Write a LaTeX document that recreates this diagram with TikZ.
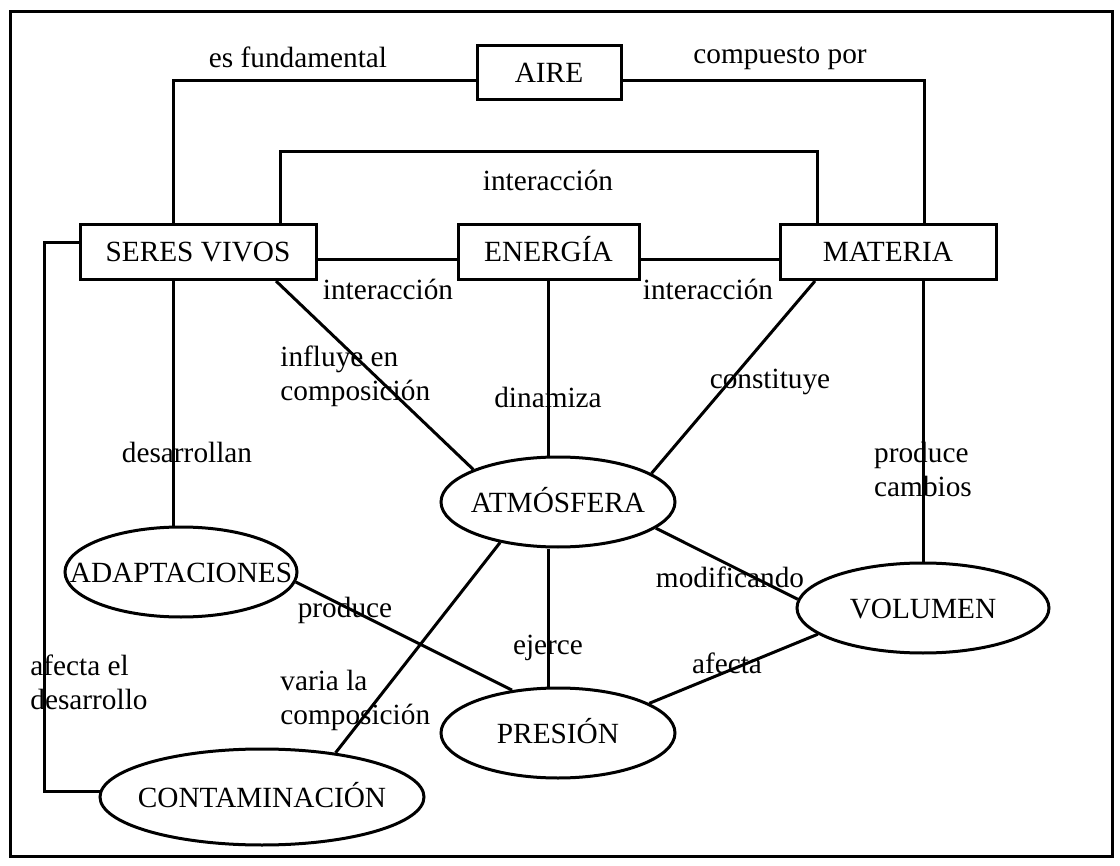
\documentclass[tikz,border=0pt]{standalone}
\usepackage{fontspec}
\setmainfont{Liberation Serif}
\usetikzlibrary{shapes.geometric,calc}
\begin{document}
\begin{tikzpicture}[x=0.5pt,y=-0.5pt,
  every node/.style={font=\fontsize{14.65}{17}\selectfont},
  box/.style={draw,line width=1.5pt,inner sep=0pt,minimum height=27.5pt,text height=10pt,text depth=0pt},
  oval/.style={draw,ellipse,line width=1.5pt,inner sep=0pt},
  ovaltext/.style={inner sep=0pt,text height=10pt,text depth=0pt},
  lbl/.style={inner sep=0pt,align=left},
  conn/.style={line width=1.5pt}]
\useasboundingbox (0,0) rectangle (1120,866);
\draw[line width=1.5pt] (10,12) rectangle (1112,856);
% boxes
\node[box,minimum width=72pt,minimum height=27pt] (aire) at (549,73) {AIRE};
\node[box,minimum width=118pt] (sv) at (198,252) {SERES VIVOS};
\node[box,minimum width=90.5pt] (ener) at (548.5,252) {ENERGÍA};
\node[box,minimum width=108pt] (mat) at (888,252) {MATERIA};
% ovals
\node[oval,minimum width=117pt,minimum height=45pt] (atm) at (558,502) {};
\node[ovaltext] (atmt) at (atm) {ATMÓSFERA};
\node[oval,minimum width=116pt,minimum height=45pt] (adap) at (181,572) {};
\node[ovaltext] (adapt) at (adap) {ADAPTACIONES};
\node[oval,minimum width=126pt,minimum height=45pt] (vol) at (923,608) {};
\node[ovaltext] (volt) at (vol) {VOLUMEN};
\node[oval,minimum width=117pt,minimum height=45pt] (pres) at (558,733) {};
\node[ovaltext] (prest) at (pres) {PRESIÓN};
\node[oval,minimum width=162pt,minimum height=48pt] (cont) at (262,797) {};
\node[ovaltext] (contt) at (cont) {CONTAMINACIÓN};
% connectors
\draw[conn] ($(aire.west)+(0,8)$) -| ($(sv.north)+(-25,0)$);
\draw[conn] ($(aire.east)+(0,8)$) -| ($(mat.north)+(36,0)$);
\draw[conn] ($(sv.north)+(82,0)$) -- ++(0,-71) -| ($(mat.north)+(-71,0)$);
\draw[conn] ($(sv.east)+(0,8)$) -- ($(ener.west)+(0,8)$);
\draw[conn] ($(ener.east)+(0,8)$) -- ($(mat.west)+(0,8)$);
\draw[conn] (ener.south) -- (ener.south |- atm.north);
\draw[conn] ($(sv.south)+(78,0)$) -- (atm.159);
\draw[conn] ($(mat.south)+(-73,0)$) -- (atm.17);
\draw[conn] ($(mat.south)+(35,0)$) -- (vol.north);
\draw[conn] (atm.-15) -- (vol.176);
\draw[conn] (atm.south -| ener.south) -- (pres.north -| ener.south);
\draw[conn] (adap.-5) -- (pres.137);
\draw[conn] (atm.215) -- (cont.31);
\draw[conn] (vol.194) -- (pres.18);
\draw[conn] ($(sv.south)+(-25,0)$) -- ($(adap.north)+(-8,0)$);
\draw[conn] ($(sv.west)+(0,-9)$) -- ++(-34,0) |- (cont.178.5);
% labels
\node[lbl] at (298,57) {es fundamental};
\node[lbl] at (780,58) {compuesto por};
\node[lbl] at (548,180) {interacción};
\node[lbl] at (388,289) {interacción};
\node[lbl] at (708,289) {interacción};
\node[lbl,anchor=west] at (280,376) {influye en\\composición};
\node[lbl] at (548,397) {dinamiza};
\node[lbl] at (770,382) {constituye};
\node[lbl] at (187,452) {desarrollan};
\node[lbl] at (923,469) {produce\\cambios};
\node[lbl] at (730,577) {modificando};
\node[lbl] at (345,610) {produce};
\node[lbl] at (548,648) {ejerce};
\node[lbl] at (727,663) {afecta};
\node[lbl,anchor=west] at (30,682) {afecta el\\desarrollo};
\node[lbl,anchor=west] at (280,700) {varia la\\composición};
\end{tikzpicture}
\end{document}
